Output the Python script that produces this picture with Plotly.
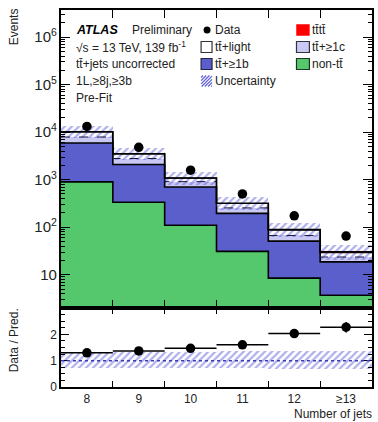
import plotly.graph_objects as go
import numpy as np

# ---------------- data ----------------
bins = [8, 9, 10, 11, 12, 13]
bin_labels = ["8", "9", "10", "11", "12", "≥13"]
non_tt = [900, 335, 110, 31, 8.5, 3.7]
tt_1b = [5000, 1755, 590, 164, 42.5, 14.9]
tt_1c = [2000, 700, 210, 60, 16, 5.0]
tt_light = [2250, 710, 170, 60, 20, 5.4]
tttt = [12, 9, 6, 4, 2.5, 1.5]
data = [13200, 4800, 1580, 500, 174, 65]
ratio = [1.30, 1.37, 1.47, 1.60, 2.03, 2.27]
ratio_err = [0.03, 0.03, 0.04, 0.06, 0.12, 0.20]
unc_up = [0.32, 0.33, 0.34, 0.35, 0.37, 0.38]
unc_dn = [0.26, 0.27, 0.28, 0.29, 0.31, 0.33]

# ---------------- derived ----------------
edges = [b - 0.5 for b in bins] + [bins[-1] + 0.5]
c1 = np.array(non_tt)
c2 = c1 + np.array(tt_1b)
c3 = c2 + np.array(tt_1c)
c4 = c3 + np.array(tt_light)
c5 = c4 + np.array(tttt)
total = c5
up = np.array(unc_up)
dn = np.array(unc_dn)

GREEN = "#55c86e"
BLUE = "#5a5fcc"
LAV = "#c9c9f3"
RED = "#ff0000"
HATCH = "#5f5fd6"
FONT = "Liberation Sans"
TXT = "#222222"

W, H = 378, 422
ML, MR, MT, MB = 61, 4, 10, 35
PW, PH = W - ML - MR, H - MT - MB
split = (H - MB - 308) / PH


def px(x):
    return (x - ML) / PW


def py(y):
    return (H - MB - y) / PH


fig = go.Figure()

# stacked histogram drawn as overlaid cumulative bars
for cum, col in [(c5, RED), (c4, "white"), (c3, LAV), (c2, BLUE), (c1, GREEN)]:
    fig.add_trace(go.Bar(x=bins, y=cum, width=1, marker=dict(color=col, line=dict(width=0)),
                         showlegend=False, xaxis="x", yaxis="y", hoverinfo="skip"))

# step outlines
for cum, lw, dash, col in [(c1, 1.6, "solid", "black"), (c2, 1.6, "solid", "black"),
                           (c3, 1.0, "dash", "#1a1a40"), (c4, 1.2, "solid", "black"),
                           (c5, 1.6, "solid", "black")]:
    fig.add_trace(go.Scatter(x=edges, y=list(cum) + [cum[-1]], mode="lines", line_shape="hv",
                             line=dict(color=col, width=lw, dash=dash), showlegend=False,
                             xaxis="x", yaxis="y", hoverinfo="skip"))

# uncertainty band (main)
fig.add_trace(go.Bar(x=bins, y=total * (up + dn), base=total * (1 - dn), width=1,
                     marker=dict(color="rgba(0,0,0,0)", line=dict(width=0),
                                 pattern=dict(shape="/", fgcolor=HATCH, bgcolor="rgba(0,0,0,0)",
                                              size=5, solidity=0.45)),
                     showlegend=False, xaxis="x", yaxis="y", hoverinfo="skip"))

# data points
fig.add_trace(go.Scatter(x=bins, y=data, mode="markers",
                         marker=dict(color="black", size=9.5, symbol="circle"),
                         showlegend=False, xaxis="x", yaxis="y"))

# ratio panel uncertainty band
fig.add_trace(go.Bar(x=bins, y=up + dn, base=1 - dn, width=1,
                     marker=dict(color="rgba(200,200,240,0.45)", line=dict(width=0),
                                 pattern=dict(shape="/", fgcolor=HATCH, bgcolor="rgba(0,0,0,0)",
                                              size=5, solidity=0.45, fillmode="overlay")),
                     showlegend=False, xaxis="x2", yaxis="y2", hoverinfo="skip"))

# ratio points
fig.add_trace(go.Scatter(x=bins, y=ratio, mode="markers",
                         marker=dict(color="black", size=9.5),
                         error_x=dict(type="constant", value=0.5, color="black", thickness=1.5, width=0),
                         error_y=dict(type="data", array=ratio_err, color="black", thickness=1.5, width=0),
                         showlegend=False, xaxis="x2", yaxis="y2"))

shapes = [
    dict(type="line", xref="x2 domain", yref="y2", x0=0, x1=1, y0=1, y1=1,
         line=dict(color="#3b3bb5", width=1.5, dash="dot"), layer="above"),
]

# ---------------- manual legend ----------------
def box(x0, y0, x1, y1, fill, line="black", lw=1):
    return dict(type="rect", xref="paper", yref="paper", x0=px(x0), x1=px(x1), y0=py(y1), y1=py(y0),
                fillcolor=fill, line=dict(color=line, width=lw), layer="above")

rows = [30, 47, 64, 81]
c1x, c2x = 202, 298
shapes.append(dict(type="circle", xref="paper", yref="paper", x0=px(204.5), x1=px(211.5),
                   y0=py(33.5), y1=py(26.5), fillcolor="black", line=dict(color="black", width=0),
                   layer="above"))
shapes.append(box(c1x, rows[1] - 5.5, c1x + 11, rows[1] + 5.5, "white", "#333333", 1.2))
shapes.append(box(c1x, rows[2] - 5.5, c1x + 11, rows[2] + 5.5, BLUE, "#222244", 1.2))
# hatched swatch
hx0, hy0, hx1, hy1 = c1x, rows[3] - 5.5, c1x + 11, rows[3] + 5.5
for cst in np.arange(hx0 + hy0 + 2, hx1 + hy1, 3.2):
    xa = max(hx0, cst - hy1)
    xb = min(hx1, cst - hy0)
    if xb > xa:
        shapes.append(dict(type="line", xref="paper", yref="paper", x0=px(xa), y0=py(cst - xa),
                           x1=px(xb), y1=py(cst - xb), line=dict(color=HATCH, width=1.2), layer="above"))
shapes.append(box(c2x, rows[0] - 5.5, c2x + 13, rows[0] + 5.5, RED, RED, 0.5))
shapes.append(box(c2x, rows[1] - 5.5, c2x + 13, rows[1] + 5.5, LAV, "#333344", 1.2))
shapes.append(box(c2x, rows[2] - 5.5, c2x + 13, rows[2] + 5.5, GREEN, "#223322", 1.2))

ann = []


def text(x, y, s, size=12, xanchor="left", angle=0, color=TXT):
    ann.append(dict(x=px(x), y=py(y), xref="paper", yref="paper", text=s, showarrow=False,
                    xanchor=xanchor, yanchor="middle", textangle=angle,
                    font=dict(family=FONT, size=size, color=color)))


text(74, 30, "<b><i>ATLAS</i></b>", 12.5, color="black")
text(130, 30, "Preliminary", 12)
text(74, 47, "√s = 13 TeV, 139 fb<sup>-1</sup>", 12)
text(74, 64, "tt\u0304+jets uncorrected", 12)
text(74, 81, "1L,≥8j,≥3b", 12)
text(74, 98, "Pre-Fit", 12)

text(214, rows[0], "Data", 12)
text(214, rows[1], "tt\u0304+light", 12)
text(214, rows[2], "tt\u0304+≥1b", 12)
text(214, rows[3], "Uncertainty", 12)
text(312, rows[0], "tt\u0304tt\u0304", 12)
text(312, rows[1], "tt\u0304+≥1c", 12)
text(312, rows[2], "non-tt\u0304", 12)

text(14, 27, "Events", 12, xanchor="center", angle=-90)
text(14, 340, "Data / Pred.", 12, xanchor="center", angle=-90)
text(376, 414, "Number of jets", 12, xanchor="right")

axis_common = dict(showline=True, linecolor="black", linewidth=1.5, mirror="ticks",
                   showgrid=False, zeroline=False, tickcolor="black",
                   tickfont=dict(family=FONT, size=12, color=TXT))

fig.update_layout(
    width=W, height=H, autosize=False,
    margin=dict(l=ML, r=MR, t=MT, b=MB),
    paper_bgcolor="white", plot_bgcolor="white",
    barmode="overlay", bargap=0,
    showlegend=False,
    font=dict(family=FONT, size=12, color=TXT),
    xaxis=dict(domain=[0, 1], anchor="y", range=[7.5, 13.5], matches="x2",
               tickvals=bins, showticklabels=False, ticks="inside", ticklen=0,
               minor=dict(tickmode="array", tickvals=edges[1:-1], ticks="inside", ticklen=8,
                          tickcolor="black", tickwidth=1.3),
               **axis_common),
    yaxis=dict(domain=[split, 1], anchor="x", type="log", range=[0.3, 6.57],
               dtick=1, exponentformat="power", ticks="inside", ticklen=9, tickwidth=1.3,
               minor=dict(ticks="inside", ticklen=4.5, dtick="D1", tickcolor="black", tickwidth=1),
               **axis_common),
    xaxis2=dict(domain=[0, 1], anchor="y2", range=[7.5, 13.5],
                tickvals=bins, ticktext=bin_labels, ticks="inside", ticklen=0,
                minor=dict(tickmode="array", tickvals=edges[1:-1], ticks="inside", ticklen=6,
                           tickcolor="black", tickwidth=1.3),
                **axis_common),
    yaxis2=dict(domain=[0, split], anchor="x2", range=[0, 3], tickvals=[0, 1, 2],
                ticks="inside", ticklen=8, tickwidth=1.3,
                minor=dict(ticks="inside", ticklen=4, dtick=0.25, tickcolor="black", tickwidth=1),
                **axis_common),
    shapes=shapes,
    annotations=ann,
)

fig.write_html("out.html", config={"displayModeBar": False},
               post_script="document.body.style.margin='0';document.body.style.padding='0';"
                           "document.body.style.overflow='hidden';")
